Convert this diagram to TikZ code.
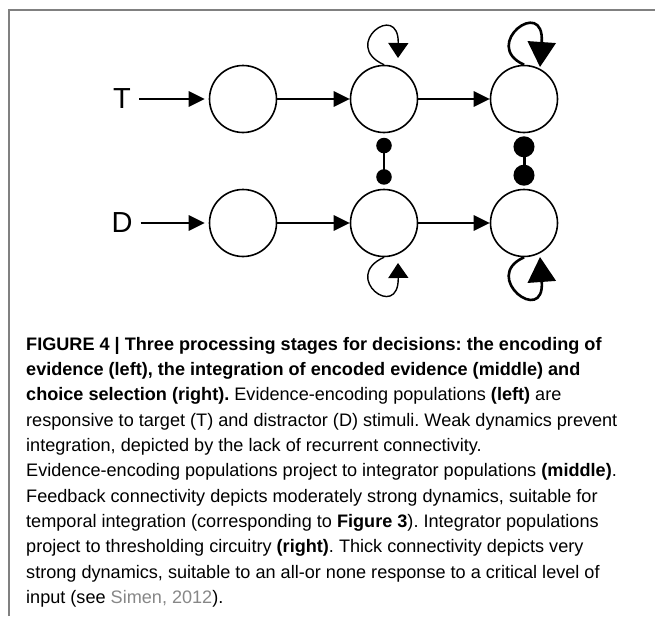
\documentclass[tikz,border=0pt]{standalone}
\usepackage{fontspec}
\setmainfont{Liberation Sans}
\usetikzlibrary{arrows.meta}
\definecolor{framegray}{RGB}{128,128,128}
\definecolor{citegray}{RGB}{135,135,135}

\begin{document}
\begin{tikzpicture}[x=1pt, y=-1pt,
    pop/.style={draw, circle, minimum size=67pt, inner sep=0pt, line width=1.6pt},
    stim/.style={inner sep=0pt, font=\fontsize{29}{29}\selectfont},
    proj/.style={line width=1.4pt, -{Triangle[length=16pt,width=15.5pt]}},
    feedback/.style={line width=1.4pt, -{Triangle[length=15pt,width=20pt]}},
    strongfeedback/.style={line width=2.6pt, -{Triangle[length=25pt,width=28pt]}},
    inhib/.style={line width=1.8pt, {Circle[length=15.5pt]}-{Circle[length=15.5pt]}},
    stronginhib/.style={line width=3pt, {Circle[length=21pt]}-{Circle[length=21pt]}}]
  \useasboundingbox (0,0) rectangle (655,616);
  \draw [framegray, line width=1.8pt] (9,616) -- (9,10) -- (655,10);

  % populations: encoding, integration, selection
  \node [pop] (encT) at (243,99) {};
  \node [pop] (encD) at (243,223) {};
  \node [pop] (intT) at (384,99) {};
  \node [pop] (intD) at (384,223) {};
  \node [pop] (selT) at (524,99) {};
  \node [pop] (selD) at (524,223) {};

  \node [stim] (lblT) at (122,99) {T};
  \node [stim] (lblD) at (122,223) {D};

  \draw [proj, shorten <=8pt, shorten >=4pt] (lblT) -- (encT);
  \draw [proj, shorten <=8pt, shorten >=4pt] (lblD) -- (encD);
  \draw [proj] (encT) -- (intT);
  \draw [proj] (encD) -- (intD);
  \draw [proj] (intT) -- (selT);
  \draw [proj] (intD) -- (selD);

  % mutual inhibition
  \draw [inhib, shorten <=4.5pt, shorten >=4pt] (intT) -- (intD);
  \draw [stronginhib, shorten <=3pt, shorten >=3pt] (selT) -- (selD);

  % recurrent connections
  \coordinate (intTtip) at (398,58);
  \coordinate (intDtip) at (398,263);
  \coordinate (selTtip) at (540,67);
  \coordinate (selDtip) at (540,257);
  \draw [feedback] (intT.north) .. controls (340,45) and (399,0) .. (intTtip);
  \draw [feedback] (intD.south) .. controls (340,277) and (399,322) .. (intDtip);
  \draw [strongfeedback] (selT.north) .. controls (480,45) and (545,-5) .. (selTtip);
  \draw [strongfeedback] (selD.south) .. controls (480,277) and (545,327) .. (selDtip);

  \node [anchor=north west, align=left, inner sep=0pt,
    font=\fontsize{18.1}{25.3}\selectfont\frenchspacing] (caption) at (26,337) {%
    \textbf{FIGURE 4 | Three processing stages for decisions: the encoding of}\\
    \textbf{evidence (left), the integration of encoded evidence (middle) and}\\
    \textbf{choice selection (right).} Evidence-encoding populations \textbf{(left)} are\\
    responsive to target (T) and distractor (D) stimuli. Weak dynamics prevent\\
    integration, depicted by the lack of recurrent connectivity.\\
    Evidence-encoding populations project to integrator populations \textbf{(middle)}.\\
    Feedback connectivity depicts moderately strong dynamics, suitable for\\
    temporal integration (corresponding to \textbf{Figure 3}). Integrator populations\\
    project to thresholding circuitry \textbf{(right)}. Thick connectivity depicts very\\
    strong dynamics, suitable to an all-or none response to a critical level of\\
    input (see \textcolor{citegray}{Simen, 2012}).};
\end{tikzpicture}
\end{document}
